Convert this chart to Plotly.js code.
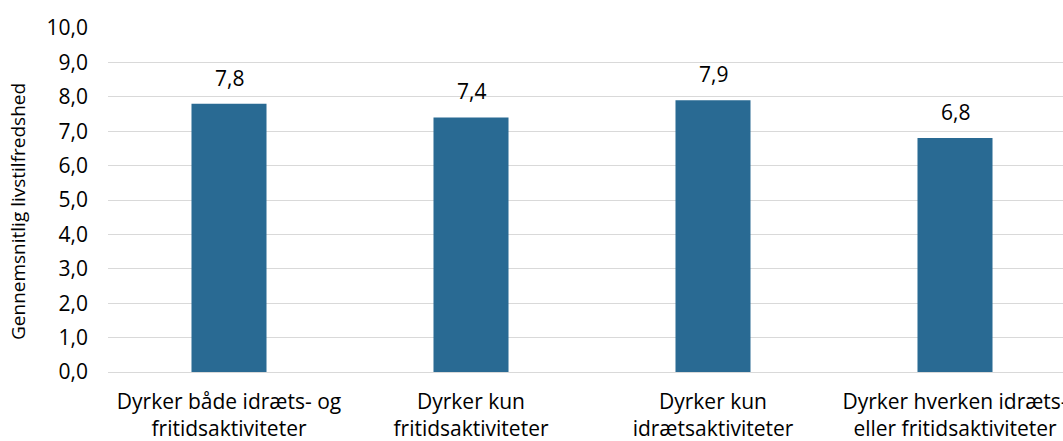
<!DOCTYPE html>
<html>
<head>
<meta charset="utf-8">
<script src="https://cdn.plot.ly/plotly-3.0.1.min.js"></script>
<style>html,body{margin:0;padding:0;background:#fff;}#chart{width:1063px;height:441px;}</style>
</head>
<body>
<div id="chart"></div>
<script>
const categories = [
  "Dyrker både idræts- og<br>fritidsaktiviteter",
  "Dyrker kun<br>fritidsaktiviteter",
  "Dyrker kun<br>idrætsaktiviteter",
  "Dyrker hverken idræts-<br>eller fritidsaktiviteter"
];
const values = [7.8, 7.4, 7.9, 6.8];
const yTitle = "Gennemsnitlig livstilfredshed";
const FONT = "'Open Sans', sans-serif";

const trace = {
  type: "bar",
  x: categories,
  y: values,
  marker: {color: "#296a93"},
  width: 0.31,
  hoverinfo: "none"
};

const annotations = categories.map((c, i) => ({
  x: c, y: values[i], xref: "x", yref: "y",
  text: values[i].toFixed(1).replace(".", ","),
  showarrow: false, yanchor: "bottom", yshift: 10,
  font: {family: FONT, size: 21, color: "#000"}
}));
annotations.push({
  xref: "paper", yref: "paper",
  x: (18 - 108) / 955, y: (372 - 212) / 344,
  xanchor: "center", yanchor: "middle",
  textangle: -90, showarrow: false,
  text: yTitle,
  font: {family: FONT, size: 19, color: "#000"}
});

const layout = {
  width: 1063, height: 441,
  margin: {l: 108, r: 0, t: 28, b: 69},
  paper_bgcolor: "#fff", plot_bgcolor: "#fff",
  separators: ",.",
  showlegend: false,
  font: {family: FONT, color: "#000"},
  xaxis: {
    type: "category",
    range: [-0.5, -0.5 + 955 / 242],
    showgrid: false, zeroline: false, showline: false,
    ticks: "", tickfont: {family: FONT, size: 21, color: "#000"},
    ticklabelstandoff: 15,
    tickangle: 0, fixedrange: true
  },
  yaxis: {
    range: [0, 10], dtick: 1, tick0: 0, tickformat: ".1f",
    showgrid: true, gridcolor: "#d9d9d9", gridwidth: 1,
    zeroline: true, zerolinecolor: "#d9d9d9", zerolinewidth: 1,
    showline: false, ticks: "", ticklen: 0,
    ticklabelstandoff: 19,
    tickfont: {family: FONT, size: 21, color: "#000"},
    fixedrange: true
  },
  annotations: annotations
};

Plotly.newPlot("chart", [trace], layout, {displayModeBar: false, staticPlot: true});
</script>
</body>
</html>
